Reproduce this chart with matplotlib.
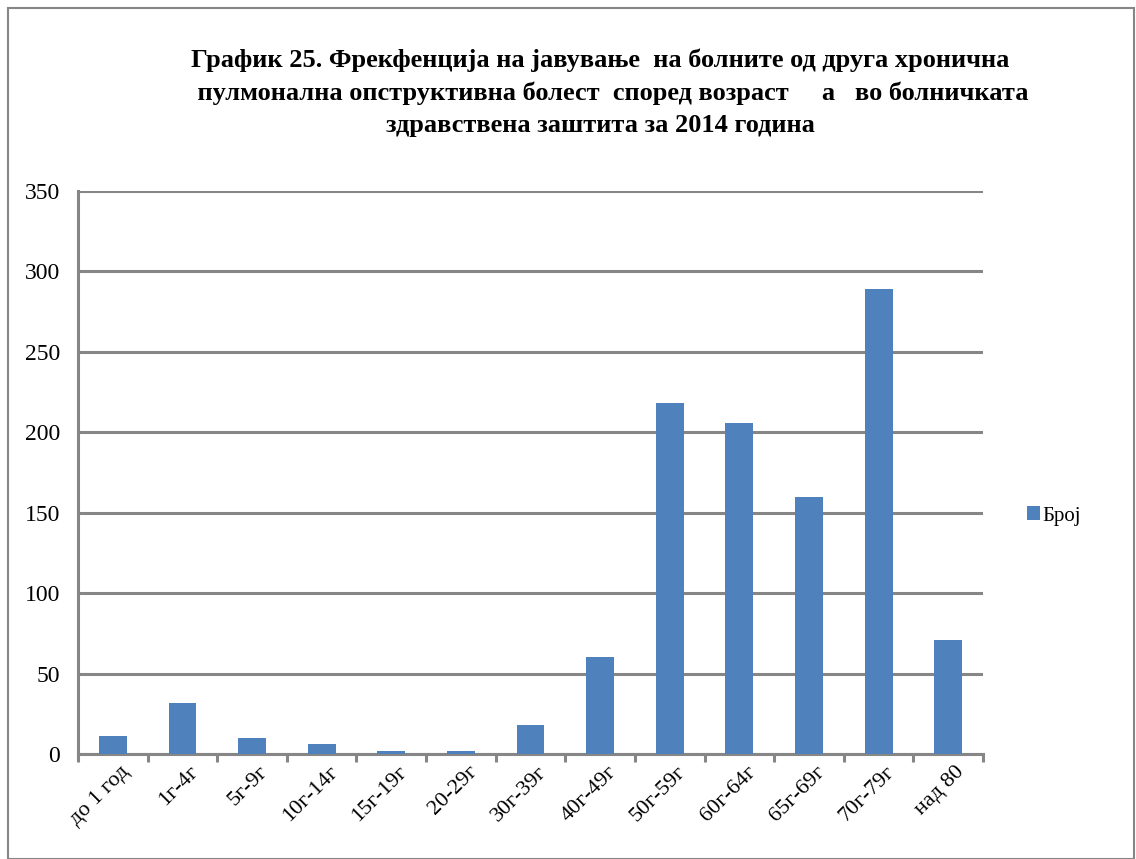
import numpy as np
import matplotlib
matplotlib.use('Agg')
import matplotlib.pyplot as plt
from matplotlib.patches import Rectangle

# %% data
categories = ['до 1 год', '1г-4г', '5г-9г', '10г-14г', '15г-19г', '20-29г', '30г-39г',
              '40г-49г', '50г-59г', '60г-64г', '65г-69г', '70г-79г', 'над 80']
broj = [11, 32, 10, 6, 2, 2, 18, 60, 218, 206, 160, 289, 71]
yticks = [0, 50, 100, 150, 200, 250, 300, 350]

title = ('График 25. Фрекфенција на јавување  на болните од друга хронична\n'
         '    пулмонална опструктивна болест  според возраст     а   во болничката\n'
         'здравствена заштита за 2014 година')

plt.rcParams['font.family'] = ['Liberation Serif', 'DejaVu Serif']

fig = plt.figure(figsize=(11.36, 8.59), dpi=100)
ax = fig.add_axes([78/1136, 1-754/859, (983-78)/1136, (754-191)/859])

x = np.arange(len(categories))
ax.bar(x, broj, width=0.4, color='#4F81BD', zorder=3, label='Број')

# =============================================================================
# axes
# =============================================================================
ax.set_xlim(-0.5, len(categories)-0.5)
ax.set_ylim(0, 350)
ax.set_yticks(yticks)
ax.yaxis.grid(True, color='#868686', linewidth=2.2, zorder=0)
ax.set_xticks(np.arange(len(categories)+1)-0.5, minor=False)
ax.set_xticklabels([])
ax.set_xticks(x+0.1, minor=True)
ax.set_xticklabels(categories, minor=True, rotation=45, ha='right',
                   rotation_mode='anchor', fontsize=16)
ax.tick_params(axis='x', which='minor', length=0, pad=6)
ax.tick_params(axis='x', which='major', length=6, width=2.2, color='#868686', direction='out')
ax.tick_params(axis='y', length=0, labelsize=17, pad=13)

for s in ['top', 'right']:
    ax.spines[s].set_visible(False)
ax.spines['left'].set_color('#868686')
ax.spines['left'].set_linewidth(2.2)
ax.spines['bottom'].set_color('#868686')
ax.spines['bottom'].set_linewidth(2.2)

fig.text(600/1136, 1-49/859, title, ha='center', va='top', fontsize=19,
         fontweight='bold', linespacing=1.5)

ax.legend(loc='center left', bbox_to_anchor=(1008/1136, 1-516/859),
          bbox_transform=fig.transFigure, frameon=False, fontsize=15,
          handlelength=0.65, handleheight=0.65, handletextpad=0.1)

fig.patches.append(Rectangle((8/1136, 0), 1-8/1136-0.002, 1-8/859, transform=fig.transFigure,
                             fill=False, edgecolor='#868686', linewidth=1.5))

plt.savefig('out.png', dpi=100)
